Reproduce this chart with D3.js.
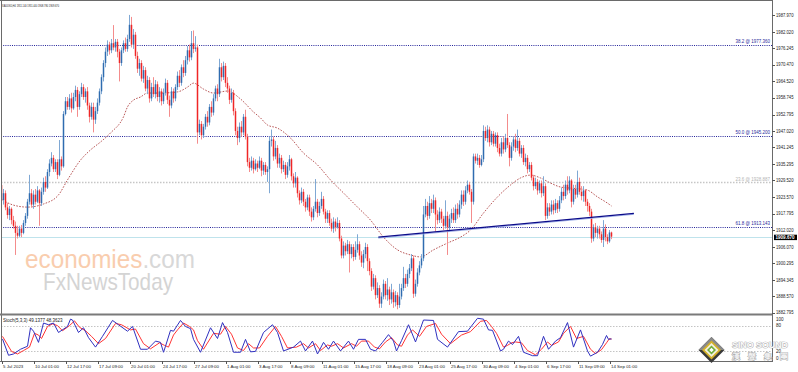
<!DOCTYPE html>
<html><head><meta charset="utf-8">
<script src="https://cdn.jsdelivr.net/npm/d3@7"></script>
<style>body{margin:0;background:#fff}svg{display:block}text{font-family:"Liberation Sans",Arial,sans-serif}</style>
</head><body><svg id="c" width="798" height="372"></svg>
<script>
// ---------- DATA ----------
const open=[1927.9,1922.6,1925,1920,1917.3,1919.5,1915.5,1913.5,1911,1910,
1912.5,1911,1914.5,1917,1922,1925,1921,1924.5,1922,1926,
1921.5,1925.5,1929,1927,1932.5,1935.5,1937.5,1933.5,1936,1931.5,
1937,1934.5,1953,1957.5,1955.5,1958.5,1955,1959,1961.5,1955.5,
1960,1962.5,1959,1961,1956,1952,1955.5,1951,1954,1957,
1961,1966,1971,1975,1977.5,1975.5,1978,1976.5,1978.5,1975,
1971,1975.5,1978,1976,1979.5,1984.5,1977.5,1981,1973.5,1969,
1971,1965.5,1968.5,1962,1965,1958.5,1962.5,1960,1963.5,1959,
1961,1957.5,1960.5,1964,1958,1956,1961,1958.5,1962.5,1966.5,
1964,1969.5,1967.5,1972,1975.5,1973,1978,1976,1976.5,1946.5,
1949.5,1945.5,1948.5,1952,1950,1955.5,1953.5,1958.5,1962,1960,
1969.5,1966,1970,1964,1962,1958,1960.5,1954,1947,1944.5,
1948.5,1946.5,1952,1945,1936,1934,1936.5,1933.5,1935.5,1934,
1936.5,1933,1935,1932.5,1933.5,1943.5,1944,1938,1941,1935.5,
1937.5,1933.5,1935,1931.5,1934.5,1937,1931,1928.5,1930.5,1925,
1922.5,1925.5,1922,1920,1923.5,1918.5,1916.5,1919.5,1922,1918,
1920.5,1923,1918.5,1916,1918,1914.5,1912.5,1915,1913,1914.5,
1909,1903,1906.5,1904.5,1907,1903.5,1906,1902.5,1905,1907,
1903,1900.5,1903.5,1906,1901,1897.5,1892,1895,1889,1891.5,
1886,1888.5,1893,1889,1891,1887.5,1890,1886.5,1889,1885.5,
1888.5,1891.5,1895,1893,1896.5,1898.5,1902,1889.5,1893,1897,
1899.5,1902,1917.5,1920.5,1917,1921.5,1919.5,1922.5,1917.5,1915.5,
1918.5,1916,1913.5,1917,1913,1916,1918,1915.5,1919.5,1917.5,
1921,1924.5,1922,1926,1928,1925.5,1922,1938,1936.5,1937.5,
1935,1937,1947,1944.5,1947.5,1943,1946,1942.5,1945.5,1941,
1939,1943,1940.5,1944.5,1942,1937.5,1941.5,1944,1941,1943.5,
1939,1941,1936,1937.5,1933.5,1935,1930.5,1927.5,1929,1926,
1928.5,1925,1927.5,1917,1920,1918.5,1921,1919,1921.5,1919.5,
1922.5,1925.5,1924,1928,1926,1929.5,1922,1926.5,1924.5,1929,
1925.5,1924,1926,1922,1920.5,1918.5,1909,1913,1911,1912.5,
1910.5,1908.5,1912.5,1909.5,1908,1911.14];
const high=[1933,1926.5,1926,1921.5,1920.5,1920,1917,1915,1913.5,1913.5,
1913.8,1915.5,1918,1923,1931.5,1926.5,1926,1926.5,1927.5,1926.5,
1927,1930.5,1931,1933.5,1937,1939.5,1938.5,1937,1937,1943.8,
1938,1954,1959,1959,1960,1960.5,1960.5,1963,1962.5,1961,
1964,1963.5,1962,1962.5,1957,1957,1957,1955.5,1958.5,1962,
1967,1972,1976.5,1979,1978.5,1979.5,1984.4,1979.5,1979.5,1976,
1976.5,1979,1980,1981,1988,1987.3,1983,1982,1975,1972.5,
1972,1970,1969.5,1966.5,1966,1964,1966,1965,1964.5,1962.5,
1962,1962,1965.5,1965,1959.5,1962.5,1962,1963.5,1968,1968.5,
1970.5,1972,1973.5,1977,1977.5,1982.3,1982.5,1980.5,1977.5,1951,
1950.5,1949.5,1953,1954,1956.5,1957.5,1960,1963,1963.5,1972.5,
1971,1971.5,1971,1966,1963,1962,1961.5,1955,1948.5,1950,
1950.5,1953,1954.5,1946,1937.5,1938,1937.5,1937,1936.5,1938,
1937.5,1936,1936,1934.5,1945,1947.5,1945,1943.5,1942,1939,
1938.5,1936.5,1936,1936,1938.5,1937.5,1932,1932.5,1931,1926,
1927,1926.5,1923,1924.5,1924.5,1920,1920.5,1930,1923,1922,
1925.5,1924,1919.5,1919,1919,1916,1916.5,1916,1916.5,1915.5,
1910,1908,1907.5,1908.5,1908,1907,1907,1908,1910.5,1908,
1904.5,1905,1907.5,1907,1902,1898.5,1896.5,1896,1893.5,1892.5,
1890,1894.5,1894,1895,1892,1893,1891,1890.5,1890,1893,
1893,1899,1896.5,1898,1900,1903.5,1903,1894.5,1898.5,1901,
1903.5,1920.5,1923,1922,1924,1923,1924.5,1923.5,1919,1920,
1919.5,1917,1922.5,1918.5,1917.5,1919.5,1920,1921,1921.5,1922.5,
1926,1926,1927.5,1929.5,1929,1926.5,1939,1939,1939,1938.5,
1938.5,1949,1948.5,1949,1948.5,1947,1947,1946.5,1946.5,1942.5,
1944.5,1945,1946,1953,1943,1943,1945,1946,1947.5,1944.5,
1942,1942,1939,1938.5,1936,1936,1931.5,1930.5,1930,1929.5,
1929.5,1931,1928.5,1921.5,1921.5,1922.5,1922.5,1923,1922.5,1924,
1927,1928,1929.5,1931,1931,1930,1928,1928,1933,1930.5,
1927.5,1927.5,1926.5,1923,1921.5,1919.5,1914,1914.5,1913.5,1913.5,
1911.5,1915.5,1914,1910.5,1912,1911.44];
const low=[1921.5,1921,1919,1916,1915.5,1914,1912.5,1903.2,1909,1909.5,
1909.5,1910.5,1913.5,1916,1921,1920,1919.5,1921,1921.5,1913.5,
1920.5,1924.5,1925.5,1926.5,1931,1934.5,1932.5,1932.5,1930,1931,
1933,1934,1952.5,1954.5,1954.5,1953.5,1954.5,1957.5,1952,1954.5,
1959,1958,1957,1954.5,1950,1951,1946.5,1949.5,1953,1956,
1960,1964.5,1969.5,1973.5,1974,1974.5,1975.5,1975,1973,1964.5,
1970,1974.5,1975,1975,1978.5,1976.5,1976,1972.5,1967.5,1966.5,
1964.5,1964,1961,1960,1957,1957.5,1959,1958.5,1957.5,1957,
1956,1956.5,1959.5,1956.5,1952,1955,1957,1957.5,1961.5,1962.5,
1963,1966,1966.5,1970.5,1971.5,1972,1974.5,1975,1942.5,1945.5,
1944,1944.5,1947.5,1948.5,1949,1952,1952.5,1957.5,1957.5,1959,
1964.5,1965,1962.5,1960.5,1956.5,1957,1952.5,1945.5,1942,1943,
1945,1945.5,1944,1934.5,1932.5,1933,1932,1933,1932.5,1933.5,
1931,1931.5,1931.5,1929,1925,1941.5,1936.5,1937,1934,1934,
1932,1932.5,1930,1930.5,1933,1929.5,1927,1927,1923.5,1921,
1921.5,1920.5,1918.5,1919,1917,1915,1915.5,1918.5,1916.5,1917,
1919.5,1917.5,1914.5,1914.5,1913.5,1911.5,1911,1911.5,1912.5,1908,
1902,1902,1903,1903.5,1897,1902,1901,1901.5,1904,1901.5,
1899,1898.5,1902,1897.5,1896,1890.5,1891,1887.5,1888,1884.5,
1884.5,1887.5,1887.5,1887,1885.5,1886,1884.5,1885,1884,1884.5,
1887.5,1890.5,1891.5,1892,1895,1897.5,1888,1888.5,1892,1896,
1898.5,1901,1916.5,1915.5,1916,1918,1918,1911.5,1914,1914.5,
1914.5,1912,1912.5,1903.2,1911.5,1914.5,1914.5,1914.5,1916,1916.5,
1919.5,1920.5,1921,1925,1924.5,1914.5,1921,1935.5,1935,1934,
1934.5,1936,1943.5,1943,1941.5,1942,1941.5,1941.5,1939.5,1938,
1938,1939,1939.5,1941,1934.5,1936.5,1940,1939.5,1940,1938,
1937.5,1935,1934.5,1932,1932.5,1929.5,1926,1926.5,1924.5,1925,
1923.5,1924,1915.5,1916,1917,1917.5,1917.5,1918,1918,1918.5,
1921.5,1922.5,1923,1924.5,1925,1920,1921,1923,1923.5,1924.5,
1922.5,1922,1920.5,1918.5,1917,1907.5,1908,1909.5,1909,1909,
1907.5,1906,1908,1907,1907.5,1908.78];
const close=[1922.6,1925,1920,1917.3,1919.5,1915.5,1913.5,1911,1910,1912.5,
1911,1914.5,1917,1922,1925,1921,1924.5,1922,1926,1921.5,
1925.5,1929,1927,1932.5,1935.5,1937.5,1933.5,1936,1931.5,1937,
1934.5,1953,1957.5,1955.5,1958.5,1955,1959,1961.5,1955.5,1960,
1962.5,1959,1961,1956,1952,1955.5,1951,1954,1957,1961,
1966,1971,1975,1977.5,1975.5,1978,1976.5,1978.5,1975,1971,
1975.5,1978,1976,1979.5,1984.5,1977.5,1981,1973.5,1969,1971,
1965.5,1968.5,1962,1965,1958.5,1962.5,1960,1963.5,1959,1961,
1957.5,1960.5,1964,1958,1956,1961,1958.5,1962.5,1966.5,1964,
1969.5,1967.5,1972,1975.5,1973,1978,1976,1976.5,1946.5,1949.5,
1945.5,1948.5,1952,1950,1955.5,1953.5,1958.5,1962,1960,1969.5,
1966,1970,1964,1962,1958,1960.5,1954,1947,1944.5,1948.5,
1946.5,1952,1945,1936,1934,1936.5,1933.5,1935.5,1934,1936.5,
1933,1935,1932.5,1933.5,1943.5,1944,1938,1941,1935.5,1937.5,
1933.5,1935,1931.5,1934.5,1937,1931,1928.5,1930.5,1925,1922.5,
1925.5,1922,1920,1923.5,1918.5,1916.5,1919.5,1922,1918,1920.5,
1923,1918.5,1916,1918,1914.5,1912.5,1915,1913,1914.5,1909,
1903,1906.5,1904.5,1907,1903.5,1906,1902.5,1905,1907,1903,
1900.5,1903.5,1906,1901,1897.5,1892,1895,1889,1891.5,1886,
1888.5,1893,1889,1891,1887.5,1890,1886.5,1889,1885.5,1888.5,
1891.5,1895,1893,1896.5,1898.5,1902,1889.5,1893,1897,1899.5,
1902,1917.5,1920.5,1917,1921.5,1919.5,1922.5,1917.5,1915.5,1918.5,
1916,1913.5,1917,1913,1916,1918,1915.5,1919.5,1917.5,1921,
1924.5,1922,1926,1928,1925.5,1922,1938,1936.5,1937.5,1935,
1937,1947,1944.5,1947.5,1943,1946,1942.5,1945.5,1941,1939,
1943,1940.5,1944.5,1942,1937.5,1941.5,1944,1941,1943.5,1939,
1941,1936,1937.5,1933.5,1935,1930.5,1927.5,1929,1926,1928.5,
1925,1927.5,1917,1920,1918.5,1921,1919,1921.5,1919.5,1922.5,
1925.5,1924,1928,1926,1929.5,1922,1926.5,1924.5,1929,1925.5,
1924,1926,1922,1920.5,1918.5,1909,1913,1911,1912.5,1910.5,
1908.5,1912.5,1909.5,1908,1911.14,1909.67];

// moving average (at sample bars)
const maBars=[0.5,6,13,21,28.5,33,39.5,44.5,49.5,54.5,61,63,66,69.5,73,79.5,88,93,96,101,106,113,119.5,126,129.5,133,138,144.5,151,158,164.5,171,178,184.5,191,198,204.5,209.5,216,223,229.5,234.5,241,248,254.5,259.5,264.5,269.5,274.5,279.5,284.5,289.5,293,298,303,305];
const maValues=[1922.6,1920.8,1920.1,1921.2,1924.4,1929.7,1936.7,1940.3,1943.1,1946.3,1952,1955.5,1957.9,1959,1960.4,1960.4,1960.8,1962.5,1963.9,1961.8,1960.4,1961.1,1958.3,1953.7,1951.6,1949.1,1948.0,1944.5,1939.2,1935.0,1929.7,1925.1,1920.1,1915.5,1909.5,1905.0,1903.2,1902.5,1905.0,1907.4,1909.5,1912.0,1918.0,1923.7,1927.9,1930.4,1931.4,1930.4,1928.6,1927.2,1926.8,1926.5,1926.1,1923.7,1921.5,1920.5];

// stochastic %K (blue) and %D (red)
const kBars=[0.5,3.5,6,9.5,13,14.5,16,18.5,21,23.5,26,28.5,33,34.5,35.5,38.5,41,43.5,47,50.5,55.5,58.5,63,65.5,69.5,73,77,79.5,81,82,84.5,86,89.5,92,94.5,96,99.5,104.5,108,110.5,113,116,119.5,122,124.5,127,131,135.5,138,141,146,149.5,152,155.5,158,161,163.5,166,169.5,173.5,176,178.5,182,184.5,187,190.5,193.5,196,197.5,200,203.5,207,211,216,218,223,228.5,233,238,241,243.5,245.5,249.5,251,253.5,255.5,258.5,261,265.5,268,271,273.5,277,279.5,283,286,289.5,293,294.5,298,300.5,302.5,303.5,305];
const kValues=[49,11,14,25,32,75,67,41,86,82,86,64,78,95,93,64,75,52,30,55,92,82,67,78,25,25,44,41,18,32,69,67,92,78,73,48,18,75,50,87,64,18,18,48,19,20,64,82,64,21,30,44,21,44,14,41,25,44,21,44,25,48,48,25,21,41,59,44,21,45,82,42,93,92,48,30,66,67,97,95,70,69,21,25,44,36,55,18,10,10,55,25,44,52,87,30,70,21,9,18,36,57,48,49.1377];
const dBars=[0.5,5,8,11,14,16.5,18.5,20,23,25.5,28,30.5,34,36.5,39,42,45,48.5,52,57,60,64.5,67,71,74.5,79,81.5,83.5,86,88,91,94,96,98,101,106,109.5,112,115,118,121,123.5,126,129,133,137,140,143,147.5,151,153.5,157,159.5,163,165,168,171,175,177.5,180,183.5,186.5,189,192,195,198,200,203,205.5,209,212.5,217,220,224.5,230,234.5,239.5,242.5,245,247.5,251,253,255,257,260,263,267,270,273,275,278.5,281,284.5,287.5,291,294.5,297,300,302.5,304,305];
const dValues=[55,20,14,22,30,62,58,50,78,84,80,68,80,91,76,68,55,38,50,85,82,70,72,38,26,40,34,30,58,70,86,78,70,45,25,62,60,78,60,28,22,38,28,28,55,78,55,28,30,38,28,38,22,35,32,38,28,38,32,44,44,30,26,42,52,35,32,58,70,55,78,85,60,38,58,66,90,92,78,62,30,34,40,42,40,22,12,25,42,34,42,62,78,50,55,25,15,24,40,50,48.3623];

const priceTicks=["1987.970","1982.020","1976.245","1970.470","1964.520","1958.745","1952.795","1947.020","1941.245","1935.295","1929.520","1923.570","1917.795","1912.020","1906.070","1900.295","1894.345","1888.570","1882.795"];
const timeLabels=["5 Jul 2023","10 Jul 01:00","12 Jul 17:00","17 Jul 09:00","20 Jul 01:00","24 Jul 17:00","27 Jul 09:00","1 Aug 01:00","3 Aug 17:00","8 Aug 09:00","11 Aug 01:00","15 Aug 17:00","18 Aug 09:00","23 Aug 01:00","25 Aug 17:00","30 Aug 09:00","4 Sep 01:00","6 Sep 17:00","11 Sep 09:00","14 Sep 01:00"];
const timeLabelBars=[0,16,32,48,64,80,96,112,128,144,160,176,192,208,224,240,256,272,288,304];
const fibNames=["38.2 @ 1977.360","50.0 @ 1945.200","23.6 @ 1928.887","61.8 @ 1913.143"];
const fibValues=[1977.36,1945.2,1928.887,1913.143];
const fibMuted=[false,false,true,false];
const trendBars=[188.4,316.2];
const trendValues=[1909.5,1917.9];
const lastPrice=1909.67;
const headerText="XAUUSD,H4  1911.140 1911.440 1908.780 1909.670";
const stochText="Stoch(5,3,3) 49.1377 48.3623";
const stochLevels=[80,20];
const stochTicks=["100","80","20","0"];

// ---------- DRAW ----------
const svg=d3.select("#c");
const W=798,H=372, axisX=772;
const x=d3.scaleLinear().domain([0,385.25]).range([1.5,axisX]);
const y=d3.scaleLinear().domain([1882.795,1987.97]).range([312.7,15]);
const ys=d3.scaleLinear().domain([0,100]).range([360,317]);

svg.append("rect").attr("width",W).attr("height",H).attr("fill","#fff");
const defs=svg.append("defs");
defs.append("clipPath").attr("id","mainClip").append("rect").attr("x",1).attr("y",1).attr("width",axisX-1).attr("height",312);
defs.append("clipPath").attr("id","stClip").append("rect").attr("x",1).attr("y",315).attr("width",axisX-1).attr("height",46);

// watermark
const wm=svg.append("g");
const t1=wm.append("text").attr("x",25).attr("y",268).attr("font-family","Lato, 'Open Sans', sans-serif").attr("font-weight",300)
  .attr("font-size",25).attr("textLength",170).attr("lengthAdjust","spacingAndGlyphs");
t1.append("tspan").attr("fill","#f9cdae").text("economies");
t1.append("tspan").attr("fill","#d8d8d8").text(".com");
const t2=wm.append("text").attr("x",43).attr("y",290).attr("font-family","Lato, 'Open Sans', sans-serif").attr("font-weight",300)
  .attr("font-size",24).attr("textLength",130).attr("lengthAdjust","spacingAndGlyphs")
  .text("FxNewsToday").attr("fill","#d4d4d4");

const main=svg.append("g").attr("clip-path","url(#mainClip)");

// fib lines
fibValues.forEach((v,i)=>{
  const yy=Math.round(y(v))+0.5;
  main.append("line").attr("x1",1).attr("x2",axisX).attr("y1",yy).attr("y2",yy)
    .attr("stroke",fibMuted[i]?"#c6c6c6":"#24249a").attr("stroke-width",fibMuted[i]?1.4:1)
    .attr("stroke-dasharray",fibMuted[i]?"1.5,1.5":"1,1.2");
});
// current price line
const lpY=Math.round(y(lastPrice))+0.5;
main.append("line").attr("x1",1).attr("x2",axisX).attr("y1",lpY).attr("y2",lpY).attr("stroke","#bfe3ec").attr("stroke-width",1);

// moving average
const maLine=d3.line().x(d=>x(d[0])).y(d=>y(d[1])).curve(d3.curveMonotoneX);
main.append("path").datum(maBars.map((b,i)=>[b,maValues[i]])).attr("d",maLine)
  .attr("fill","none").attr("stroke","#b04444").attr("stroke-width",0.9).attr("stroke-dasharray","1.6,1.4");

// candles
const cg=main.append("g");
for(let i=0;i<close.length;i++){
  const o=open[i],c=close[i];
  const hi=Math.max(high[i],o,c), lo=Math.min(low[i],o,c);
  const up=c>=o;
  const xc=x(i);
  cg.append("line").attr("x1",xc).attr("x2",xc).attr("y1",y(hi)).attr("y2",y(lo))
    .attr("stroke",up?"#7fa8d4":"#f48c8c").attr("stroke-width",1);
  const top=y(Math.max(o,c)), bot=y(Math.min(o,c));
  cg.append("rect").attr("x",xc-0.75).attr("width",1.5).attr("y",top).attr("height",Math.max(0.6,bot-top))
    .attr("fill",up?"#2f6cb0":"#f02626");
}

// trendline
main.append("line").attr("x1",x(trendBars[0])).attr("y1",y(trendValues[0])+1).attr("x2",x(trendBars[1])).attr("y2",y(trendValues[1])+1)
  .attr("stroke","#9fb0e8").attr("stroke-width",1);
main.append("line").attr("x1",x(trendBars[0])).attr("y1",y(trendValues[0])).attr("x2",x(trendBars[1])).attr("y2",y(trendValues[1]))
  .attr("stroke","#0c0c8a").attr("stroke-width",1.3);

// fib labels
fibValues.forEach((v,i)=>{
  svg.append("text").attr("x",axisX-2).attr("y",y(v)-1.6).attr("text-anchor","end")
    .attr("font-size",4.5).attr("fill",fibMuted[i]?"#b4b4b4":"#2a2a9c").text(fibNames[i]);
});

// header
svg.append("text").attr("x",2).attr("y",6.5).attr("font-size",4.2).attr("fill","#222")
  .attr("textLength",57).attr("lengthAdjust","spacingAndGlyphs").text(headerText);

// stochastic panel
const st=svg.append("g").attr("clip-path","url(#stClip)");
stochLevels.forEach(v=>{
  const yy=Math.round(ys(v))+0.5;
  st.append("line").attr("x1",1).attr("x2",axisX).attr("y1",yy).attr("y2",yy).attr("stroke","#c4c4c4").attr("stroke-dasharray","1.5,1.5");
});
const sLine=d3.line().x(d=>x(d[0])).y(d=>ys(d[1]));
st.append("path").datum(dBars.map((b,i)=>[b,dValues[i]])).attr("d",sLine).attr("fill","none").attr("stroke","#ff3434").attr("stroke-width",1);
st.append("path").datum(kBars.map((b,i)=>[b,kValues[i]])).attr("d",sLine).attr("fill","none").attr("stroke","#3030c0").attr("stroke-width",1);
svg.append("text").attr("x",3).attr("y",322).attr("font-size",4.5).attr("fill","#222").text(stochText);

// frames
const fr=svg.append("g").attr("stroke","#6a6a6a").attr("fill","none");
fr.append("line").attr("x1",0).attr("x2",axisX).attr("y1",0.5).attr("y2",0.5);
fr.append("line").attr("x1",1.5).attr("x2",1.5).attr("y1",0).attr("y2",361.5);
fr.append("line").attr("x1",axisX+0.5).attr("x2",axisX+0.5).attr("y1",0).attr("y2",362);
fr.append("line").attr("x1",0).attr("x2",axisX).attr("y1",314.5).attr("y2",314.5).attr("stroke-width",2).attr("stroke","#7a7a7a");
fr.append("line").attr("x1",0).attr("x2",axisX).attr("y1",361.5).attr("y2",361.5);

// price axis
priceTicks.forEach(t=>{
  const yy=y(+t);
  svg.append("line").attr("x1",axisX).attr("x2",axisX+3).attr("y1",Math.round(yy)+0.5).attr("y2",Math.round(yy)+0.5).attr("stroke","#555");
  svg.append("text").attr("x",axisX+4).attr("y",yy+1.7).attr("font-size",4.8).attr("fill","#222")
    .attr("textLength",17.5).attr("lengthAdjust","spacingAndGlyphs").text(t);
});
// last price tag
svg.append("rect").attr("x",axisX+2).attr("y",lpY-2.8).attr("width",23).attr("height",5.4).attr("fill","#000");
svg.append("text").attr("x",axisX+3.5).attr("y",lpY+1.7).attr("font-size",4.6).attr("font-weight","bold").attr("fill","#fff")
  .attr("textLength",19).attr("lengthAdjust","spacingAndGlyphs").text(lastPrice.toFixed(3));

// stoch axis labels
stochTicks.forEach(t=>{
  const yy=Math.min(358,Math.max(319.5,ys(+t)));
  svg.append("text").attr("x",axisX+4).attr("y",yy+1.6).attr("font-size",4.6).attr("fill","#222").text(t);
});

// time axis
timeLabels.forEach((t,i)=>{
  const xx=Math.round(x(timeLabelBars[i]))+0.5;
  svg.append("line").attr("x1",xx).attr("x2",xx).attr("y1",361).attr("y2",364).attr("stroke","#555");
  svg.append("text").attr("x",xx+0.5).attr("y",368).attr("font-size",4.4).attr("fill","#222").text(t);
});

// logo
const lg=svg.append("g").attr("transform","translate(711.5,350)");
lg.append("polygon").attr("points","0,-13 13,0 0,13 -13,0").attr("fill","#3a3a3a");
lg.append("polygon").attr("points","0,-13 13,0 0,0 -13,0").attr("fill","#8a8a8a");
lg.append("polygon").attr("points","0,-9.5 9.5,0 0,9.5 -9.5,0").attr("fill","#d4b12a");
lg.append("polygon").attr("points","0,-7 7,0 0,7 -7,0").attr("fill","#f3f0e0");
lg.append("polygon").attr("points","0,-4.5 4.5,0 0,4.5 -4.5,0").attr("fill","#6fae3a");
lg.append("rect").attr("x",-1.6).attr("y",-1.6).attr("width",3.2).attr("height",3.2).attr("fill","#fff").attr("transform","rotate(45)");
svg.append("text").attr("x",732).attr("y",348).attr("font-size",8.5).attr("font-weight","bold").attr("fill","#fafafa")
  .attr("stroke","#9a9a9a").attr("stroke-width",0.7).attr("paint-order","stroke")
  .attr("textLength",56).attr("lengthAdjust","spacingAndGlyphs").text("SINO SOUND");
svg.append("text").attr("x",732).attr("y",358.5).attr("font-size",7.5).attr("font-family","'Noto Sans CJK TC'").attr("font-weight","bold")
  .attr("fill","#f2f2f2").attr("stroke","#a0a0a0").attr("stroke-width",0.8).attr("paint-order","stroke")
  .attr("textLength",56).attr("lengthAdjust","spacing").text("漢聲集團");
</script></body></html>
